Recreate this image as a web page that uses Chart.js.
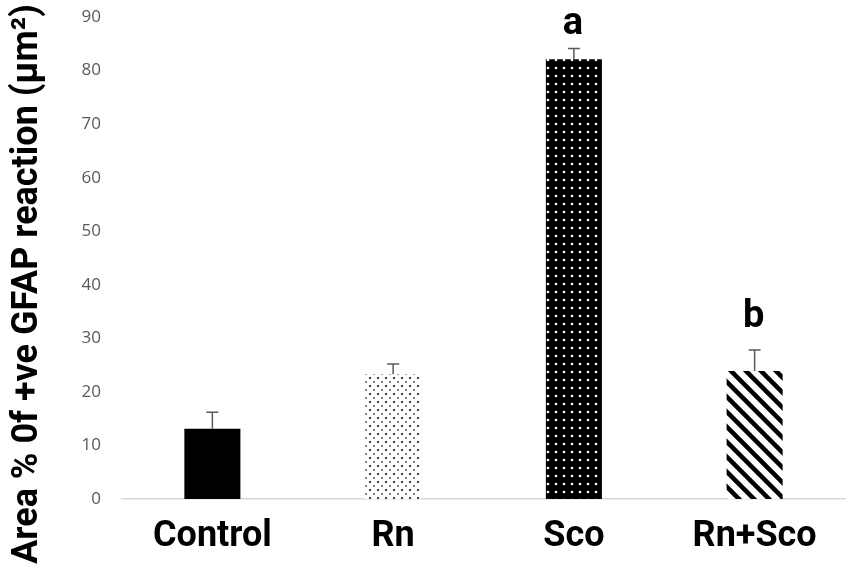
<!DOCTYPE html>
<html>
<head>
<meta charset="utf-8">
<script src="https://cdn.jsdelivr.net/npm/chart.js@4"></script>
<style>
  html, body { margin: 0; padding: 0; background: #fff; }
  #wrap { width: 851px; height: 572px; }
</style>
</head>
<body>
<div id="wrap"><canvas id="myChart" width="851" height="572"></canvas></div>
<script>
const groups = ['Control', 'Rn', 'Sco', 'Rn+Sco'];
const areaValues = [13.1, 23.3, 82.1, 23.9];
const errorValues = [3.1, 1.9, 2.0, 3.9];
const sigLetters = ['', '', 'a', 'b'];
const sigLetterLevels = [null, null, 86.8, 32.1];
const yTicks = [0, 10, 20, 30, 40, 50, 60, 70, 80, 90];

function makePattern(w, h, draw) {
    const c = document.createElement('canvas');
    c.width = w;
    c.height = h;
    draw(c.getContext('2d'));
    return c.getContext('2d').createPattern(c, 'repeat');
}

const dotsLight = makePattern(8, 8, (g) => {
    g.fillStyle = '#fff';
    g.fillRect(0, 0, 8, 8);
    g.fillStyle = '#111';
    g.beginPath(); g.arc(2, 2, 1.1, 0, Math.PI * 2); g.fill();
    g.fillStyle = '#555';
    g.beginPath(); g.arc(6, 6, 1.0, 0, Math.PI * 2); g.fill();
});

const dotsDark = makePattern(8, 8, (g) => {
    g.fillStyle = '#000';
    g.fillRect(0, 0, 8, 8);
    g.fillStyle = '#fff';
    g.beginPath(); g.arc(4, 4, 1.3, 0, Math.PI * 2); g.fill();
});

const stripes = makePattern(15, 15, (g) => {
    g.fillStyle = '#fff';
    g.fillRect(0, 0, 15, 15);
    g.strokeStyle = '#000';
    g.lineWidth = 4.5;
    g.beginPath();
    g.moveTo(-5, -5); g.lineTo(20, 20);
    g.moveTo(-5, 10); g.lineTo(5, 20);
    g.moveTo(10, -5); g.lineTo(20, 5);
    g.stroke();
});

const fills = ['#000', dotsLight, dotsDark, stripes];

const extras = {
    id: 'extras',
    afterDatasetsDraw(chart) {
        const { ctx, scales } = chart;
        const meta = chart.getDatasetMeta(0);
        ctx.save();
        // error bars
        ctx.strokeStyle = '#595959';
        ctx.lineWidth = 1.5;
        meta.data.forEach((bar, i) => {
            const yTop = scales.y.getPixelForValue(areaValues[i] + errorValues[i]);
            ctx.beginPath();
            ctx.moveTo(bar.x, bar.y);
            ctx.lineTo(bar.x, yTop);
            ctx.moveTo(bar.x - 6, yTop);
            ctx.lineTo(bar.x + 6, yTop);
            ctx.stroke();
        });
        // significance letters
        ctx.fillStyle = '#000';
        ctx.font = 'bold 38px Roboto';
        ctx.textAlign = 'center';
        ctx.textBaseline = 'alphabetic';
        meta.data.forEach((bar, i) => {
            if (!sigLetters[i]) return;
            ctx.fillText(sigLetters[i], bar.x - 1, scales.y.getPixelForValue(sigLetterLevels[i]));
        });
        // y axis title
        ctx.translate(28, 284);
        ctx.rotate(-Math.PI / 2);
        ctx.textBaseline = 'middle';
        ctx.font = 'bold 36px Roboto';
        ctx.fillText('Area % 0f +ve GFAP reaction (\u03bcm\u00b2)', 0, 0);
        ctx.restore();
    }
};

new Chart(document.getElementById('myChart').getContext('2d'), {
    type: 'bar',
    data: {
        labels: groups,
        datasets: [{
            data: areaValues,
            backgroundColor: fills,
            borderColor: '#000',
            borderWidth: 0,
            barPercentage: 0.31,
            categoryPercentage: 1
        }]
    },
    options: {
        responsive: false,
        animation: false,
        devicePixelRatio: 1,
        layout: { padding: { top: 17, right: 6, left: 0, bottom: 0 } },
        plugins: {
            legend: { display: false },
            tooltip: { enabled: false }
        },
        scales: {
            x: {
                grid: { display: false, drawTicks: false },
                border: { display: true, color: '#d9d9d9', width: 1.5 },
                ticks: {
                    padding: 16,
                    color: '#000',
                    font: { family: 'Roboto', weight: 'bold', size: 36 }
                },
                afterFit(scale) {
                    scale.height = 73;
                    scale.paddingLeft = 0;
                    scale.paddingRight = 0;
                }
            },
            y: {
                min: 0,
                max: 90,
                afterBuildTicks(scale) { scale.ticks = yTicks.map(v => ({ value: v })); },
                grid: { display: false, drawTicks: false },
                border: { display: false },
                ticks: {
                    padding: 21,
                    color: '#595959',
                    font: { family: 'Open Sans', size: 17 }
                },
                afterFit(scale) {
                    scale.width = 122;
                    scale.paddingTop = 0;
                    scale.paddingBottom = 0;
                }
            }
        }
    },
    plugins: [extras]
});
</script>
</body>
</html>
